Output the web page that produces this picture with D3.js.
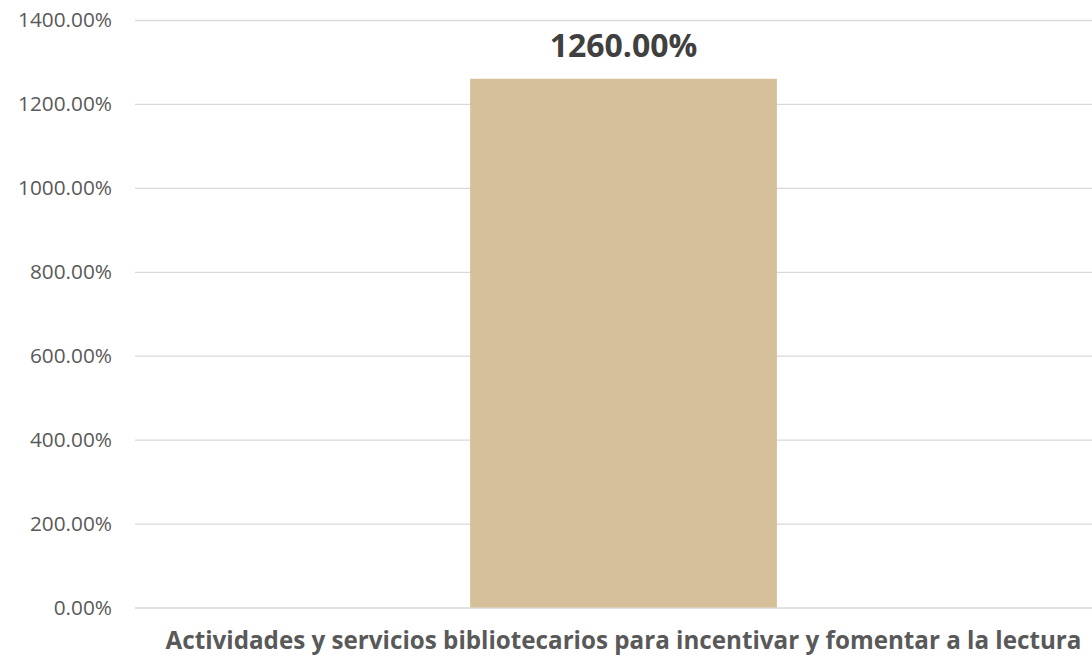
<!DOCTYPE html>
<html><head><meta charset="utf-8">
<script src="https://cdn.jsdelivr.net/npm/d3@7"></script>
<style>body{margin:0;background:#fff;}svg{display:block;font-family:"Open Sans",sans-serif;}</style>
</head><body><svg id="c" width="1092" height="659"></svg>
<script>
const categories = ["Actividades y servicios bibliotecarios para incentivar y fomentar a la lectura"];
const values = [1260];
const tickValues = [0,200,400,600,800,1000,1200,1400];

(function(){
const svg = d3.select("#c");
const mLeft = 135, mRight = 1112, mTop = 20, mBottom = 607.5;
const y = d3.scaleLinear().domain([0,1400]).range([mBottom, mTop]);
const x = d3.scaleBand().domain(categories).range([mLeft, mRight]).paddingInner(0.686).paddingOuter(0.343);

const yAxis = svg.append("g").attr("transform", `translate(${mLeft},0)`)
  .call(d3.axisLeft(y).tickValues(tickValues).tickSize(-(mRight-mLeft)).tickPadding(23).tickFormat(d => d.toFixed(2) + "%"));
yAxis.select(".domain").remove();
yAxis.selectAll(".tick line").attr("stroke", "#d9d9d9").attr("stroke-width", 1.3);
yAxis.selectAll(".tick text").attr("fill", "#595959").attr("font-size", 20.8).attr("font-family", "'Open Sans',sans-serif");

svg.selectAll("rect.bar").data(values).join("rect").attr("class","bar")
  .attr("x", (d,i) => x(categories[i])).attr("width", x.bandwidth())
  .attr("y", d => y(d)).attr("height", d => y(0) - y(d)).attr("fill", "#d5c09a");

svg.selectAll("text.val").data(values).join("text").attr("class","val")
  .attr("x", (d,i) => x(categories[i]) + x.bandwidth()/2).attr("y", d => y(d) - 22)
  .attr("text-anchor","middle").attr("font-weight","bold").attr("font-size", 32).attr("fill","#404040")
  .text(d => d.toFixed(2) + "%");

svg.selectAll("text.cat").data(categories).join("text").attr("class","cat")
  .attr("x", d => x(d) + x.bandwidth()/2).attr("y", 649)
  .attr("text-anchor","middle").attr("font-weight","bold").attr("font-size", 24.2).attr("fill","#595959")
  .text(d => d);
})();
</script></body></html>
